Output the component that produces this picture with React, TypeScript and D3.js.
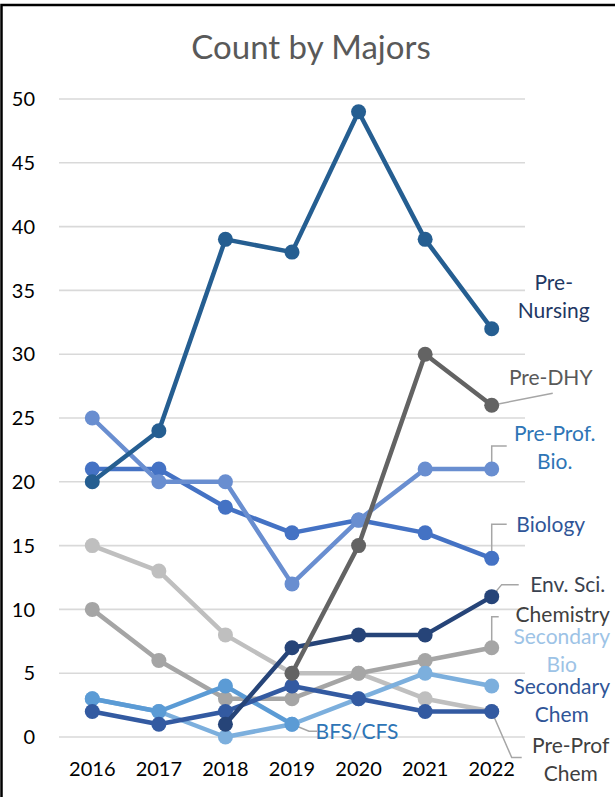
import React from 'react';
import * as d3 from 'd3';

// Chart data
const years = ['2016', '2017', '2018', '2019', '2020', '2021', '2022'];
const yTicks = [0, 5, 10, 15, 20, 25, 30, 35, 40, 45, 50];

const preProfChem = [15, 13, 8, 5, 5, 3, 2];
const chemistry = [10, 6, 3, 3, 5, 6, 7];
const secondaryBio = [3, 2, 0, 1, 3, 5, 4];
const bfsCfs = [3, 2, 4, 1, null, null, null];
const secondaryChem = [2, 1, 2, 4, 3, 2, 2];
const biology = [21, 21, 18, 16, 17, 16, 14];
const preProfBio = [25, 20, 20, 12, 17, 21, 21];
const envSci = [null, null, 1, 7, 8, 8, 11];
const preDhy = [null, null, null, 5, 15, 30, 26];
const preNursing = [20, 24, 39, 38, 49, 39, 32];

type Series = {
  name: string;
  values: (number | null)[];
  color: string;
};

// drawn bottom to top
const series: Series[] = [
  { name: 'Pre-Prof Chem', values: preProfChem, color: '#BFBFBF' },
  { name: 'Chemistry', values: chemistry, color: '#A5A5A5' },
  { name: 'Secondary Bio', values: secondaryBio, color: '#7CAFDD' },
  { name: 'BFS/CFS', values: bfsCfs, color: '#5B9BD5' },
  { name: 'Secondary Chem', values: secondaryChem, color: '#335AA1' },
  { name: 'Biology', values: biology, color: '#4472C4' },
  { name: 'Pre-Prof. Bio.', values: preProfBio, color: '#698ED0' },
  { name: 'Env. Sci.', values: envSci, color: '#264478' },
  { name: 'Pre-DHY', values: preDhy, color: '#636363' },
  { name: 'Pre-Nursing', values: preNursing, color: '#255E91' },
];

// label layout: offsets (px) relative to the labelled point, dy = centre of text block
type Label = {
  series: string;
  at: number;
  lines: string[];
  dx: number;
  dy: number;
  color: string;
  leader?: [number, number][];
};

const labels: Label[] = [
  { series: 'Pre-Nursing', at: 6, lines: ['Pre-', 'Nursing'], dx: 62, dy: -32, color: '#1F3864' },
  { series: 'Pre-DHY', at: 6, lines: ['Pre-DHY'], dx: 59, dy: -28, color: '#595959', leader: [[0, 0], [61, -12]] },
  { series: 'Pre-Prof. Bio.', at: 6, lines: ['Pre-Prof.', 'Bio.'], dx: 63, dy: -22, color: '#2E75B6', leader: [[0, 0], [0, -23], [15, -23]] },
  { series: 'Biology', at: 6, lines: ['Biology'], dx: 59, dy: -34, color: '#2F5597', leader: [[0, 0], [0, -34], [15, -34]] },
  { series: 'Env. Sci.', at: 6, lines: ['Env. Sci.'], dx: 76, dy: -12, color: '#3A4250', leader: [[0, 0], [10, -12], [27, -12]] },
  { series: 'Chemistry', at: 6, lines: ['Chemistry'], dx: 71, dy: -33, color: '#404040', leader: [[0, 0], [0, -31], [7, -31]] },
  { series: 'Secondary Bio', at: 6, lines: ['Secondary', 'Bio'], dx: 70, dy: -36, color: '#9DC3E6' },
  { series: 'Secondary Chem', at: 6, lines: ['Secondary', 'Chem'], dx: 70, dy: -11, color: '#2F5597' },
  { series: 'Pre-Prof Chem', at: 6, lines: ['Pre-Prof', 'Chem'], dx: 79, dy: 48, color: '#404040', leader: [[0, 0], [20, 46], [30, 46]] },
  { series: 'BFS/CFS', at: 3, lines: ['BFS/CFS'], dx: 65, dy: 7, color: '#2E75B6', leader: [[0, 0], [17, 7], [25, 7]] },
];

const W = 615;
const H = 797;
const FONT = 'Lato, Calibri, sans-serif';

export default function App() {
  const x = d3.scalePoint<string>().domain(years).range([59, 525]).padding(0.5);
  const y = d3.scaleLinear().domain([0, 50]).range([737, 99]);

  const line = d3
    .line<number | null>()
    .defined(d => d != null)
    .x((_, i) => x(years[i]) as number)
    .y(d => y(d as number));

  const lineHeight = 28;

  const anchorOf = (l: Label) => {
    const s = series.find(d => d.name === l.series)!;
    return [x(years[l.at]) as number, y(s.values[l.at] as number)];
  };

  return (
    <svg width={W} height={H} style={{ position: 'absolute', left: 0, top: 0, background: '#fff' }} fontFamily={FONT}>
      <rect x={1.5} y={5} width={W + 20} height={H + 20} fill="#fff" stroke="#000" strokeWidth={2.5} />

      <text x={311} y={59} textAnchor="middle" fontSize={33} fill="#595959">
        Count by Majors
      </text>

      {/* grid + y axis */}
      {yTicks.map(t => (
        <g key={t}>
          <line x1={59} x2={525} y1={y(t)} y2={y(t)} stroke="#D9D9D9" strokeWidth={1.6} />
          <text x={35} y={y(t)} dy="0.36em" textAnchor="end" fontSize={20} fill="#000">
            {t}
          </text>
        </g>
      ))}

      {/* x axis labels */}
      {years.map(yr => (
        <text key={yr} x={x(yr)} y={776} textAnchor="middle" fontSize={20} fill="#000">
          {yr}
        </text>
      ))}

      {/* leader lines */}
      {labels
        .filter(l => l.leader)
        .map(l => {
          const [px, py] = anchorOf(l);
          const pts = l.leader!.map(([dx, dy]) => `${px + dx},${py + dy}`).join(' ');
          return <polyline key={'ld' + l.series} points={pts} fill="none" stroke="#A6A6A6" strokeWidth={1.5} />;
        })}

      {/* series */}
      {series.map(s => (
        <g key={s.name}>
          <path
            d={line(s.values) || ''}
            fill="none"
            stroke={s.color}
            strokeWidth={4.5}
            strokeLinejoin="round"
            strokeLinecap="round"
          />
          {s.values.map((v, i) =>
            v == null ? null : <circle key={i} cx={x(years[i])} cy={y(v)} r={7.5} fill={s.color} />
          )}
        </g>
      ))}

      {/* data labels */}
      {labels.map(l => {
        const [px, py] = anchorOf(l);
        const n = l.lines.length;
        return (
          <text key={'lb' + l.series} textAnchor="middle" fontSize={21} fill={l.color}>
            {l.lines.map((t, i) => (
              <tspan key={i} x={px + l.dx} y={py + l.dy + (i - (n - 1) / 2) * lineHeight} dy="0.36em">
                {t}
              </tspan>
            ))}
          </text>
        );
      })}
    </svg>
  );
}
